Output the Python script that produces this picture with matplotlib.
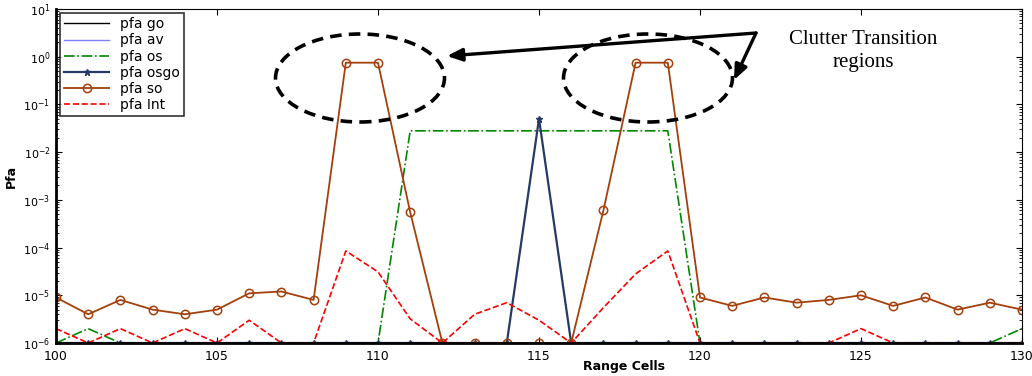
import matplotlib
matplotlib.use("Agg")
import matplotlib.pyplot as plt
from matplotlib.patches import Ellipse
from matplotlib.ticker import LogLocator, NullFormatter
import numpy as np

cells = list(range(100, 131))

pfa_go = [1e-6] * 31
pfa_av = [1e-6] * 31
pfa_os = [1e-6, 2e-6, 1e-6, 1e-6, 1e-6, 1e-6, 1e-6, 1e-6, 1e-6, 1e-6,
          1e-6, 0.028, 0.028, 0.028, 0.028, 0.028, 0.028, 0.028, 0.028, 0.028,
          1e-6, 1e-6, 1e-6, 1e-6, 1e-6, 1e-6, 1e-6, 1e-6, 1e-6, 1e-6, 2e-6]
pfa_osgo = [1e-6] * 15 + [0.05] + [1e-6] * 15
pfa_so = [9e-6, 4e-6, 8e-6, 5e-6, 4e-6, 5e-6, 1.1e-5, 1.2e-5, 8e-6, 0.75,
          0.75, 5.5e-4, 1e-6, 1e-6, 1e-6, 1e-6, 1e-6, 6e-4, 0.75, 0.75,
          9e-6, 6e-6, 9e-6, 7e-6, 8e-6, 1e-5, 6e-6, 9e-6, 5e-6, 7e-6, 5e-6]
pfa_int = [2e-6, 1e-6, 2e-6, 1e-6, 2e-6, 1e-6, 3e-6, 1e-6, 1e-6, 8.5e-5,
           3.1e-5, 3.2e-6, 1e-6, 4e-6, 7e-6, 3e-6, 1e-6, 5.5e-6, 2.8e-5, 8.5e-5,
           1e-6, 1e-6, 1e-6, 1e-6, 1e-6, 2e-6, 1e-6, 1e-6, 1e-6, 1e-6, 1e-6]
y_ticks = [1e-6, 1e-5, 1e-4, 1e-3, 1e-2, 1e-1, 1e0, 1e1]
x_ticks = [100, 105, 110, 115, 120, 125, 130]

W, H = 1032, 376
fig = plt.figure(figsize=(W / 100, H / 100), dpi=100)
ax = fig.add_axes([56 / W, 1 - 343 / H, (1022 - 56) / W, (343 - 9) / H])

navy = "#253a66"
brown = "#a3400c"

ax.plot(cells, pfa_go, color="black", lw=1.0, label="pfa go")
ax.plot(cells, pfa_av, color="#8080ff", lw=1.0, label="pfa av")
ax.plot(cells, pfa_os, color="#008800", lw=1.2, ls="-.", label="pfa os")
ax.plot(cells, pfa_osgo, color=navy, lw=1.6, marker="*", ms=5, label="pfa osgo")
ax.plot(cells, pfa_so, color=brown, lw=1.3, marker="o", ms=6, mfc="none",
        mew=1.1, label="pfa so")
ax.plot(cells, pfa_int, color="red", lw=1.2, ls="--", label="pfa Int")

ax.set_yscale("log")
ax.set_xlim(100, 130)
ax.set_ylim(1e-6, 10)
ax.set_xticks(x_ticks)
ax.set_yticks(y_ticks)
ax.yaxis.set_minor_locator(LogLocator(base=10, subs=np.arange(2, 10)))
ax.yaxis.set_minor_formatter(NullFormatter())
ax.tick_params(which="both", direction="in", top=True, right=True)
ax.tick_params(axis="x", labelsize=9, pad=5)
ax.tick_params(axis="y", labelsize=8, pad=4)
ax.tick_params(which="major", length=4)
ax.tick_params(which="minor", length=2)
ax.spines["left"].set_linewidth(2)
ax.spines["bottom"].set_linewidth(2)
ax.spines["top"].set_linewidth(0.8)
ax.spines["right"].set_linewidth(0.8)

ax.set_xlabel("Range Cells", fontsize=9, fontweight="bold")
ax.xaxis.set_label_coords(0.588, -0.05)
ax.set_ylabel("Pfa", fontsize=9, fontweight="bold", labelpad=4)

leg = ax.legend(loc="upper left", fontsize=10, frameon=True, fancybox=False,
                edgecolor="black", borderpad=0.3, labelspacing=0.15,
                handlelength=3.2, borderaxespad=0.3)
leg.get_frame().set_linewidth(1.2)

# annotations in figure pixel coordinates
def fx(px):
    return px / W

def fy(py):
    return 1 - py / H

for cx in (360, 648):
    e = Ellipse((fx(cx), fy(78)), 169 / W, 88 / H, transform=fig.transFigure,
                fill=False, ls=(0, (3.2, 2.0)), lw=2.6, color="black")
    fig.add_artist(e)

for tip in ((447, 56), (734, 80)):
    ax.annotate("", xy=(fx(tip[0]), fy(tip[1])), xytext=(fx(756), fy(33)),
                xycoords="figure fraction", textcoords="figure fraction",
                arrowprops=dict(arrowstyle="-|>,head_length=0.9,head_width=0.38",
                                lw=2.4, color="black", shrinkA=0, shrinkB=0))

fig.text(fx(863), fy(51), "Clutter Transition\nregions", ha="center", va="center",
         fontsize=15, family="Liberation Serif", linespacing=1.3)

fig.savefig("out.png", dpi=100)
